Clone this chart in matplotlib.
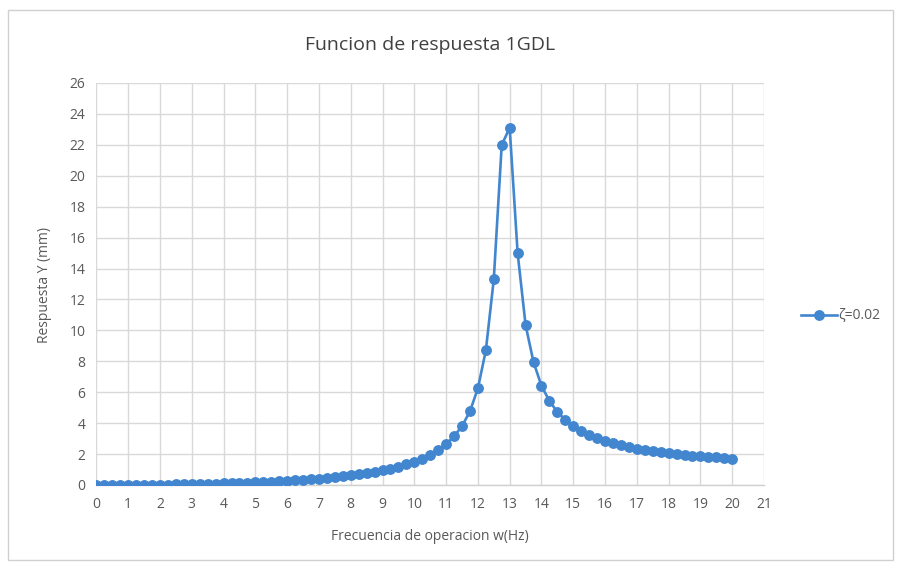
import matplotlib
matplotlib.use("Agg")
import matplotlib.pyplot as plt
from matplotlib.patches import Rectangle

# Operating frequency (Hz), sampled every 0.25 Hz
freq = [i * 0.25 for i in range(81)]

# Response amplitude Y (mm) for damping ratio 0.02
resp = [
    0.00, 0.00, 0.00, 0.00, 0.01, 0.01, 0.01, 0.02,   # 0 - 1.75
    0.02, 0.03, 0.04, 0.05, 0.06, 0.07, 0.08, 0.09,   # 2 - 3.75
    0.11, 0.12, 0.14, 0.16, 0.18, 0.20, 0.22, 0.25,   # 4 - 5.75
    0.28, 0.31, 0.34, 0.38, 0.42, 0.46, 0.51, 0.56,   # 6 - 7.75
    0.63, 0.69, 0.77, 0.85, 0.95, 1.06, 1.19, 1.33,   # 8 - 9.75
    1.50, 1.71, 1.95, 2.26, 2.64, 3.14, 3.81, 4.76,   # 10 - 11.75
    6.25, 8.70, 13.30, 22.00, 23.10, 15.00, 10.35, 7.95,  # 12 - 13.75
    6.42, 5.43, 4.73, 4.21, 3.81, 3.49, 3.23, 3.02,   # 14 - 15.75
    2.85, 2.69, 2.56, 2.45, 2.35, 2.26, 2.19, 2.12,   # 16 - 17.75
    2.05, 2.00, 1.94, 1.90, 1.85, 1.81, 1.78, 1.74,   # 18 - 19.75
    1.71,                                             # 20
]

x_ticks = list(range(0, 22))
y_ticks = list(range(0, 27, 2))

title = "Funcion de respuesta 1GDL"
x_label = "Frecuencia de operacion w(Hz)"
y_label = "Respuesta Y (mm)"
series_label = "ζ=0.02"

plt.rcParams["font.family"] = ["Open Sans", "DejaVu Sans"]

W, H = 897, 565
fig = plt.figure(figsize=(W / 100, H / 100), dpi=100)
fig.patch.set_facecolor("white")

# chart frame
fig.patches.append(Rectangle((8 / W, 5 / H), (W - 12) / W, (H - 15) / H,
                             transform=fig.transFigure, fill=False,
                             edgecolor="#d0d0d0", linewidth=1.0))

left, right = 96.4, 764.0
top, bottom = 83.0, 485.0
ax = fig.add_axes([left / W, 1 - bottom / H, (right - left) / W, (bottom - top) / H])

line_color = "#4186cf"
text_color = "#595959"

ax.plot(freq, resp, color=line_color, linewidth=1.9, marker="o",
        markersize=6.8, markerfacecolor=line_color, markeredgecolor=line_color,
        label=series_label, zorder=3)

ax.set_xlim(0, 21)
ax.set_ylim(0, 26)
ax.set_xticks(x_ticks)
ax.set_yticks(y_ticks)
ax.set_xticklabels([str(t) for t in x_ticks])
ax.set_yticklabels([str(t) for t in y_ticks])
ax.grid(True, color="#d9d9d9", linewidth=1.0, zorder=0)
ax.set_axisbelow(True)
for s in ("top", "right", "left"):
    ax.spines[s].set_visible(False)
ax.spines["bottom"].set_color("#d0d0d0")
ax.spines["bottom"].set_linewidth(1.0)
ax.tick_params(axis="both", length=0, colors=text_color, labelsize=10)
ax.tick_params(axis="x", pad=9)
ax.tick_params(axis="y", pad=8)

fig.text((left + right) / 2 / W, 1 - 45 / H, title, ha="center", va="center",
         fontsize=14, color="#404040")
fig.text((left + right) / 2 / W, 1 - 537 / H, x_label, ha="center", va="center",
         fontsize=10, color=text_color)
fig.text(45 / W, 1 - 285 / H, y_label, ha="center", va="center",
         rotation=90, fontsize=10, color=text_color)

leg = fig.legend(loc="center left", bbox_to_anchor=(795 / W, 1 - 316 / H),
                 frameon=False, fontsize=10, handlelength=2.6,
                 handletextpad=0.1, borderaxespad=0)
for t in leg.get_texts():
    t.set_color(text_color)

fig.savefig("out.png", dpi=100, facecolor="white")
